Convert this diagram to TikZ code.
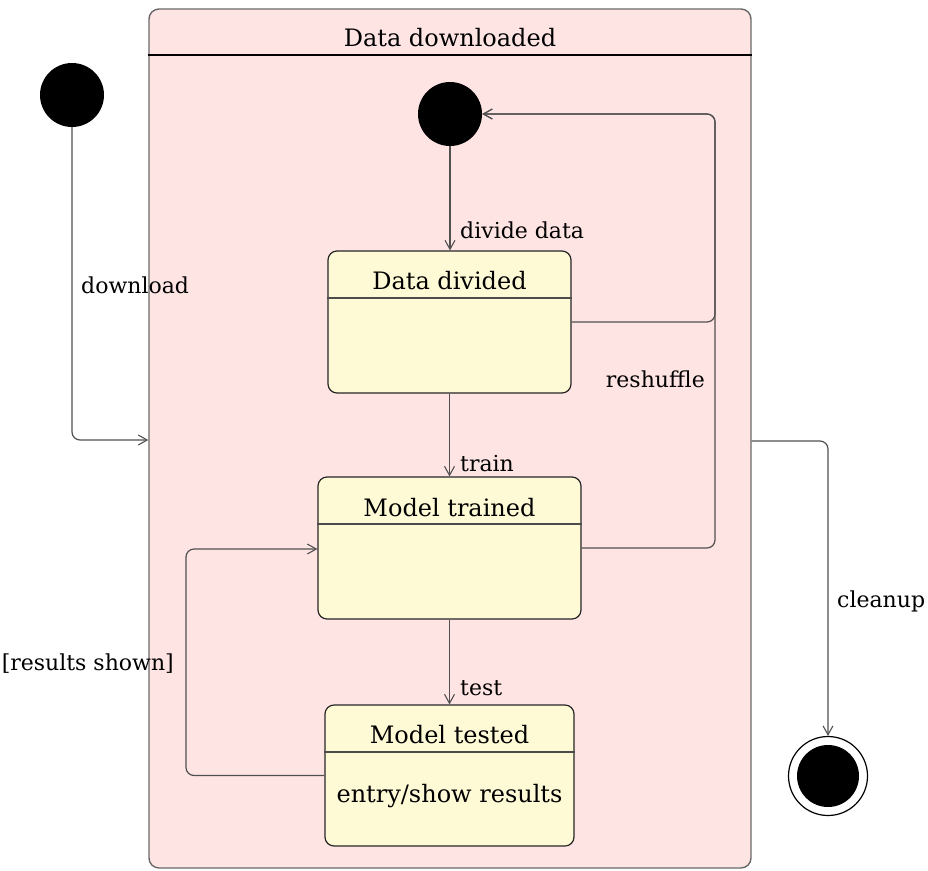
\documentclass[tikz,border=0pt]{standalone}
\usepackage{fontspec}
\setmainfont{DejaVu Serif}
\usetikzlibrary{arrows.meta}
\definecolor{pinkfill}{RGB}{255,228,228}
\definecolor{yellowfill}{RGB}{255,250,214}
\definecolor{conncol}{RGB}{80,80,80}
\definecolor{outercol}{RGB}{105,105,105}
\begin{document}
\begin{tikzpicture}[x=1pt,y=-1pt,
  statebox/.style={draw=black!85, fill=yellowfill, rounded corners=9pt, line width=1.2pt, inner sep=0pt},
  conn/.style={draw=conncol, line width=1.2pt, rounded corners=8pt, -{Straight Barb[length=9pt,width=10pt,line width=1.1pt]}},
  ttl/.style={font=\fontsize{24}{28}\selectfont, text=black, anchor=base, inner sep=0pt},
  lbl/.style={font=\fontsize{22}{26}\selectfont, text=black, inner sep=0pt},
  hdr/.style={draw=black!70, line width=1.2pt},
  startdot/.style={circle, fill=black, minimum size=64pt, inner sep=0pt}
  ]
\useasboundingbox (0,0) rectangle (928,870);
% composite state
\node[draw=outercol, fill=pinkfill, rounded corners=10pt, line width=1.4pt, minimum width=602pt, minimum height=859pt, inner sep=0pt] (outer) at (450,438.5) {};
\draw[black, line width=1.2pt] (outer.west |- 0,55) -- (outer.east |- 0,55);
\node[ttl] (outert) at (450,46) {Data downloaded};
% inner states
\node[statebox, minimum width=243pt, minimum height=142pt] (dd) at (449.5,322) {};
\draw[hdr] (dd.west |- 0,298) -- (dd.east |- 0,298);
\node[ttl] (ddt) at (449.5,289) {Data divided};
\node[statebox, minimum width=263pt, minimum height=142pt] (mt) at (449.5,548) {};
\draw[hdr] (mt.west |- 0,524) -- (mt.east |- 0,524);
\node[ttl] (mtt) at (449.5,516) {Model trained};
\node[statebox, minimum width=249pt, minimum height=141pt] (mte) at (449.5,775.5) {};
\draw[hdr] (mte.west |- 0,752) -- (mte.east |- 0,752);
\node[ttl] (mtet) at (449.5,743) {Model tested};
\node[ttl] (mteb) at (449.5,802) {entry/show results};
% pseudo states
\node[startdot] (init1) at (72,95) {};
\node[startdot] (init2) at (450,114) {};
\node[circle, draw=black, fill=white, minimum size=79pt, inner sep=0pt, line width=1.2pt] (fin) at (828,776) {};
\node[circle, fill=black, minimum size=62pt, inner sep=0pt] (finin) at (fin.center) {};
% transitions
\draw[conn] (init1) -- (init1 |- 0,440) -- (outer.west |- 0,440);
\node[lbl, anchor=base west] (l1) at (81,293) {download};
\draw[conn] (init2) -- (init2 |- dd.north);
\node[lbl, anchor=base west] (l2) at (460,238) {divide data};
\draw[conn] (dd.south) -- (mt.north);
\node[lbl, anchor=base west] (l3) at (460,471) {train};
\draw[conn] (mt.south) -- (mte.north);
\node[lbl, anchor=base west] (l4) at (460,695) {test};
\draw[conn] (dd.east) -- (715,322) -- (715,114) -- (init2);
\draw[conn] (mt.east) -- (715,548) -- (715,114) -- (init2);
\node[lbl, anchor=base east] (l5) at (705,387) {reshuffle};
\draw[conn] (mte.west) -- (186,775.5) -- (186,549) -- (mt.west |- 0,549);
\node[lbl, anchor=base east] (l6) at (174,670) {[results shown]};
\draw[conn] (outer.east |- 0,441) -- (828,441) -- (fin);
\node[lbl, anchor=base west] (l7) at (837,607) {cleanup};
\end{tikzpicture}
\end{document}
